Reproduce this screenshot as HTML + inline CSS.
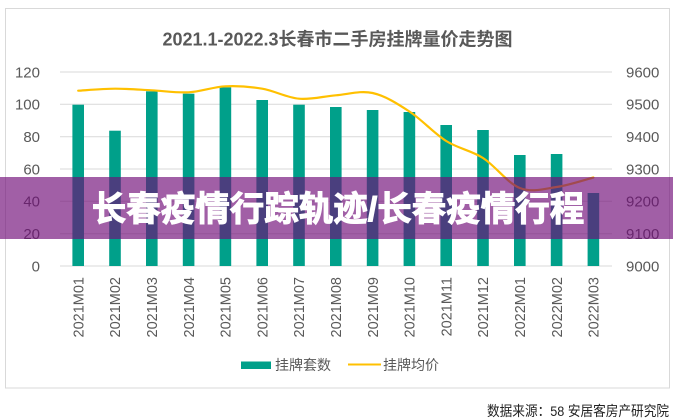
<!DOCTYPE html>
<html>
<head>
<meta charset="utf-8">
<style>
html,body{margin:0;padding:0;background:#fff;}
svg{display:block;}
text{font-family:"Liberation Sans","Noto Sans CJK SC",sans-serif;}
</style>
</head>
<body>
<svg width="673" height="419" viewBox="0 0 673 419" xmlns="http://www.w3.org/2000/svg">
  <rect x="0" y="0" width="673" height="419" fill="#ffffff"/>
  <rect x="5.5" y="8.5" width="664" height="379.5" fill="#ffffff" stroke="#d9d9d9" stroke-width="1"/>

  <!-- title -->
  <text x="337.5" y="45.5" text-anchor="middle" font-size="18" font-weight="bold" fill="#595959">2021.1-2022.3长春市二手房挂牌量价走势图</text>

  <!-- gridlines -->
  <g stroke="#d9d9d9" stroke-width="1">
    <line x1="60" y1="72" x2="612" y2="72"/>
    <line x1="60" y1="104.3" x2="612" y2="104.3"/>
    <line x1="60" y1="136.7" x2="612" y2="136.7"/>
    <line x1="60" y1="169" x2="612" y2="169"/>
    <line x1="60" y1="201.3" x2="612" y2="201.3"/>
    <line x1="60" y1="233.7" x2="612" y2="233.7"/>
    <line x1="60" y1="266" x2="612" y2="266"/>
  </g>

  <!-- left axis labels -->
  <g font-size="15" fill="#595959" text-anchor="end">
    <text x="40" y="77.3">120</text>
    <text x="40" y="109.6">100</text>
    <text x="40" y="142">80</text>
    <text x="40" y="174.3">60</text>
    <text x="40" y="206.6">40</text>
    <text x="40" y="239">20</text>
    <text x="40" y="271.3">0</text>
  </g>
  <!-- right axis labels -->
  <g font-size="15" fill="#595959" text-anchor="start">
    <text x="626" y="77.3">9600</text>
    <text x="626" y="109.6">9500</text>
    <text x="626" y="142">9400</text>
    <text x="626" y="174.3">9300</text>
    <text x="626" y="206.6">9200</text>
    <text x="626" y="239">9100</text>
    <text x="626" y="271.3">9000</text>
  </g>

  <!-- bars -->
  <g fill="#00a08a">
    <rect x="72.4" y="104.7" width="11.6" height="161.3"/>
    <rect x="109.2" y="130.7" width="11.6" height="135.3"/>
    <rect x="146" y="91.3" width="11.6" height="174.7"/>
    <rect x="182.8" y="93.7" width="11.6" height="172.3"/>
    <rect x="219.6" y="87.3" width="11.6" height="178.7"/>
    <rect x="256.4" y="100" width="11.6" height="166"/>
    <rect x="293.2" y="104.7" width="11.6" height="161.3"/>
    <rect x="330" y="107" width="11.6" height="159"/>
    <rect x="366.8" y="110" width="11.6" height="156"/>
    <rect x="403.6" y="112" width="11.6" height="154"/>
    <rect x="440.4" y="125" width="11.6" height="141"/>
    <rect x="477.2" y="130" width="11.6" height="136"/>
    <rect x="514" y="155" width="11.6" height="111"/>
    <rect x="550.8" y="154" width="11.6" height="112"/>
    <rect x="587.6" y="193" width="11.6" height="73"/>
  </g>

  <!-- price line -->
  <path fill="none" stroke="#ffc000" stroke-width="2.2" stroke-linejoin="round" stroke-linecap="round"
    d="M78.2,90.7
       C84.33,90.37 102.73,88.77 115,88.7
       C127.27,88.63 139.53,89.7 151.8,90.3
       C164.07,90.9 176.33,92.97 188.6,92.3
       C200.87,91.63 213.13,86.9 225.4,86.3
       C237.67,85.7 249.93,86.63 262.2,88.7
       C274.47,90.77 286.73,97.6 299,98.7
       C311.27,99.8 323.53,96.25 335.8,95.3
       C348.07,94.35 360.33,90.3 372.6,93
       C384.87,95.7 397.13,103.5 409.4,111.5
       C421.67,119.5 433.93,133.25 446.2,141
       C458.47,148.75 470.73,150.17 483,158
       C495.27,165.83 507.53,183.17 519.8,188
       C532.07,192.83 544.33,188.75 556.6,187
       C568.87,185.25 587.27,179.08 593.4,177.5"/>

  <!-- x-axis labels -->
  <g font-size="14.5" fill="#595959" text-anchor="end">
    <text transform="translate(83.4,277) rotate(-90)">2021M01</text>
    <text transform="translate(120.2,277) rotate(-90)">2021M02</text>
    <text transform="translate(157,277) rotate(-90)">2021M03</text>
    <text transform="translate(193.8,277) rotate(-90)">2021M04</text>
    <text transform="translate(230.6,277) rotate(-90)">2021M05</text>
    <text transform="translate(267.4,277) rotate(-90)">2021M06</text>
    <text transform="translate(304.2,277) rotate(-90)">2021M07</text>
    <text transform="translate(341,277) rotate(-90)">2021M08</text>
    <text transform="translate(377.8,277) rotate(-90)">2021M09</text>
    <text transform="translate(414.6,277) rotate(-90)">2021M10</text>
    <text transform="translate(451.4,277) rotate(-90)">2021M11</text>
    <text transform="translate(488.2,277) rotate(-90)">2021M12</text>
    <text transform="translate(525,277) rotate(-90)">2022M01</text>
    <text transform="translate(561.8,277) rotate(-90)">2022M02</text>
    <text transform="translate(598.6,277) rotate(-90)">2022M03</text>
  </g>

  <!-- legend -->
  <rect x="241" y="361.5" width="30" height="7.5" fill="#00a08a"/>
  <text x="275" y="370" font-size="14" fill="#595959">挂牌套数</text>
  <line x1="348" y1="364.5" x2="381" y2="364.5" stroke="#ffc000" stroke-width="2"/>
  <text x="383" y="370" font-size="14" fill="#595959">挂牌均价</text>

  <!-- source -->
  <text x="487" y="416" font-size="14" fill="#222222" textLength="182" lengthAdjust="spacingAndGlyphs">数据来源：58 安居客房产研究院</text>

  <!-- overlay band -->
  <rect x="0" y="177" width="673" height="62" fill="rgb(112,12,120)" fill-opacity="0.66"/>
  <text x="338" y="210" text-anchor="middle" dominant-baseline="central" font-size="34.5" font-weight="bold" fill="#ffffff" stroke="#ffffff" stroke-width="1" font-family="'Noto Sans CJK SC','Liberation Sans',sans-serif">长春疫情行踪轨迹/长春疫情行程</text>
</svg>
</body>
</html>
